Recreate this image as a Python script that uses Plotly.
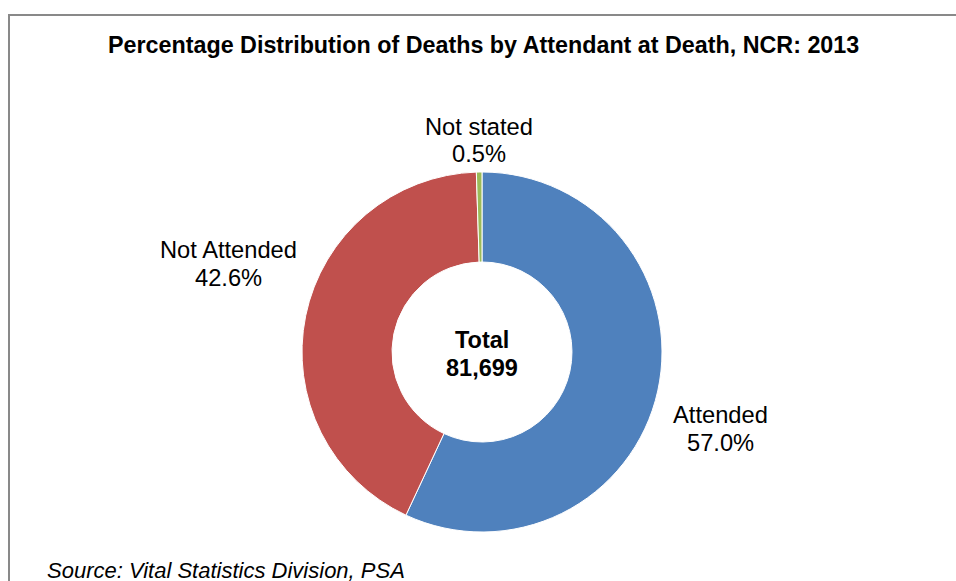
import plotly.graph_objects as go

labels = ["Attended", "Not Attended", "Not stated"]
values = [57.0, 42.6, 0.5]
colors = ["#4F81BD", "#C0504D", "#9BBB59"]
total_label = "Total"
total_value = "81,699"
title_text = "Percentage Distribution of Deaths by Attendant at Death, NCR: 2013"
source_text = "Source: Vital Statistics Division, PSA"

W, H = 956, 581
FONT = "Liberation Sans, Arial, sans-serif"

def px(x):
    return x / W

def py(y):
    return 1 - y / H

fig = go.Figure()
fig.add_trace(go.Pie(
    labels=labels,
    values=values,
    marker=dict(colors=colors, line=dict(color="white", width=1)),
    hole=0.5,
    sort=False,
    direction="clockwise",
    rotation=0,
    textinfo="none",
    hoverinfo="label+percent",
    showlegend=False,
    domain=dict(x=[px(302), px(662)], y=[py(532), py(172)]),
))

# label positions (pixel coordinates of line centres)
label_pos = {
    "Attended": (720, 415, 443),
    "Not Attended": (228, 250, 278),
    "Not stated": (479, 127, 154),
}
ann = []
for lab, val in zip(labels, values):
    x, y1, y2 = label_pos[lab]
    ann.append(dict(x=px(x), y=py(y1), xref="paper", yref="paper", text=lab,
                    showarrow=False, xanchor="center", yanchor="middle",
                    font=dict(family=FONT, size=23.7, color="#000000")))
    ann.append(dict(x=px(x), y=py(y2), xref="paper", yref="paper", text=f"{val:.1f}%",
                    showarrow=False, xanchor="center", yanchor="middle",
                    font=dict(family=FONT, size=23.7, color="#000000")))

ann.append(dict(x=px(482), y=py(340), xref="paper", yref="paper", text=f"<b>{total_label}</b>",
                showarrow=False, xanchor="center", yanchor="middle",
                font=dict(family=FONT, size=23.5, color="#000000")))
ann.append(dict(x=px(482), y=py(368), xref="paper", yref="paper", text=f"<b>{total_value}</b>",
                showarrow=False, xanchor="center", yanchor="middle",
                font=dict(family=FONT, size=23.5, color="#000000")))
ann.append(dict(x=px(483), y=py(45), xref="paper", yref="paper", text=f"<b>{title_text}</b>",
                showarrow=False, xanchor="center", yanchor="middle",
                font=dict(family=FONT, size=23.3, color="#000000")))
ann.append(dict(x=px(45), y=py(570), xref="paper", yref="paper", text=f"<i>{source_text}</i>",
                showarrow=False, xanchor="left", yanchor="middle",
                font=dict(family=FONT, size=22, color="#000000")))

shapes = [
    dict(type="line", xref="paper", yref="paper", x0=px(8), x1=px(960), y0=py(15), y1=py(15),
         line=dict(color="#898989", width=2)),
    dict(type="line", xref="paper", yref="paper", x0=px(9), x1=px(9), y0=py(14), y1=py(600),
         line=dict(color="#898989", width=2)),
]

fig.update_layout(
    width=W, height=H,
    margin=dict(l=0, r=0, t=0, b=0),
    paper_bgcolor="white",
    plot_bgcolor="white",
    annotations=ann,
    shapes=shapes,
)

fig.write_html(
    "out.html",
    config={"displayModeBar": False},
    post_script="document.body.style.margin='0';document.body.style.overflow='hidden';",
)
